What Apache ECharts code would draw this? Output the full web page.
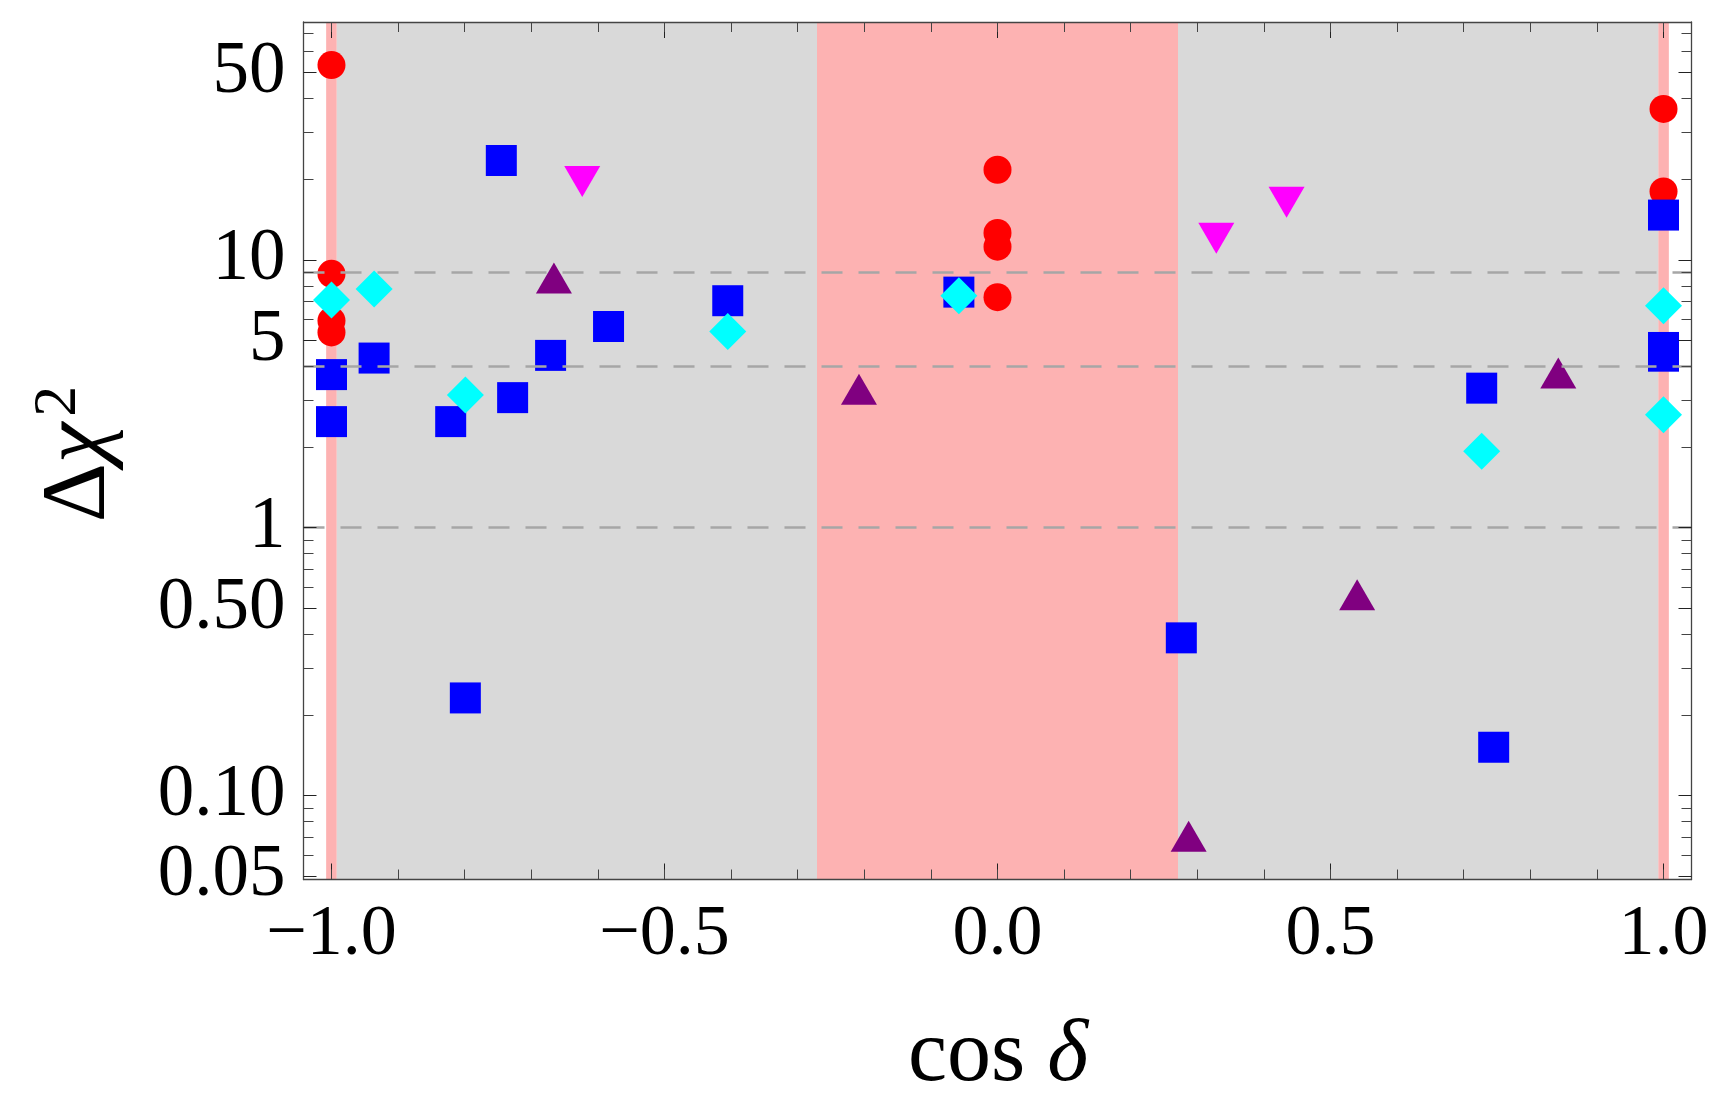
<!DOCTYPE html>
<html>
<head>
<meta charset="utf-8">
<script src="https://cdn.jsdelivr.net/npm/echarts@6/dist/echarts.min.js"></script>
<style>
    html, body { margin: 0; padding: 0; background: #fff; }
    #chart { width: 1716px; height: 1093px; }
</style>
</head>
<body>
<div id="chart"></div>
<script>
// ---- data (cos delta, delta chi^2) ----
const redCircles = [
    [-1, 53.4], [-1, 8.87], [-1, 5.93], [-1, 5.36],
    [0, 21.7], [0, 12.6], [0, 11.2], [0, 7.26],
    [1, 36.6], [1, 18.0]
];
const blueSquares = [
    [-1, 3.73], [-1, 2.49], [-0.936, 4.30], [-0.821, 2.49], [-0.728, 3.06],
    [-0.745, 23.5], [-0.671, 4.40], [-0.584, 5.64], [-0.405, 7.04], [-0.058, 7.58],
    [-0.799, 0.2315], [0.276, 0.388], [0.727, 3.32], [0.745, 0.1515],
    [1, 14.7], [1, 4.71], [1, 4.37]
];
const cyanDiamonds = [
    [-1, 7.09], [-0.936, 7.78], [-0.799, 3.13], [-0.405, 5.40],
    [-0.058, 7.34], [0.727, 1.93], [1, 6.74], [1, 2.64]
];
const magentaDown = [[-0.6235, 19.6], [0.3285, 12.05], [0.434, 16.4]];
const purpleUp = [[-0.666, 8.55], [-0.208, 3.29], [0.287, 0.0705], [0.540, 0.562], [0.842, 3.78]];

// shaded bands along cos delta
const pinkBands = [[-1.008, -0.992], [-0.271, 0.271], [0.992, 1.008]];
const grayBands = [[-0.992, -0.271], [0.271, 0.992]];
// dashed reference levels
const refLevels = [1, 4, 9];

// axes
const xMin = -1.042, xMax = 1.042;
const yMin = 0.0486, yMax = 77.3;
const xMajorTicks = [-1, -0.5, 0, 0.5, 1];
const xMinorTicks = [-1, -0.9, -0.8, -0.7, -0.6, -0.5, -0.4, -0.3, -0.2, -0.1, 0,
    0.1, 0.2, 0.3, 0.4, 0.5, 0.6, 0.7, 0.8, 0.9, 1];
const yMajorTicks = [0.05, 0.1, 0.5, 1, 5, 10, 50];
const yMajorLabels = ['0.05', '0.10', '0.50', '1', '5', '10', '50'];
const yMinorTicks = [0.06, 0.07, 0.08, 0.09, 0.2, 0.3, 0.4, 0.6, 0.7, 0.8, 0.9,
    2, 3, 4, 6, 7, 8, 9, 20, 30, 40, 60, 70];

const FONT = '"Liberation Serif", "Times New Roman", serif';
const frameLine = { show: true, onZero: false, lineStyle: { color: '#444', width: 1.3 } };
const noLine = { show: false, onZero: false };

const yLabel = (v) => {
    const i = yMajorTicks.findIndex(t => Math.abs(Math.log10(t) - v) < 1e-6);
    return i >= 0 ? yMajorLabels[i] : '';
};
const xLabel = (v) => (v < 0 ? '\u2212' + Math.abs(v).toFixed(1) : v.toFixed(1));

function xAx(position, major, withLine, withLabel) {
    return {
        type: 'value', min: xMin, max: xMax, position: position, z: 10,
        axisLine: withLine ? frameLine : noLine,
        splitLine: { show: false },
        axisTick: {
            show: true, inside: true, length: major ? 16 : 10,
            customValues: major ? xMajorTicks : xMinorTicks,
            lineStyle: { color: major ? '#222' : '#444', width: 1 }
        },
        axisLabel: withLabel ? {
            show: true, customValues: xMajorTicks, formatter: xLabel, margin: 20,
            fontFamily: FONT, fontSize: 72, color: '#000'
        } : { show: false }
    };
}

function yAx(position, major, withLine, withLabel) {
    const ticks = (major ? yMajorTicks : yMinorTicks).map(t => Math.log10(t));
    return {
        type: 'value', min: Math.log10(yMin), max: Math.log10(yMax), position: position, z: 10,
        axisLine: withLine ? frameLine : noLine,
        splitLine: { show: false },
        axisTick: {
            show: true, inside: true, length: major ? 13 : 10,
            customValues: ticks,
            lineStyle: { color: major ? '#222' : '#444', width: 1 }
        },
        axisLabel: withLabel ? {
            show: true, customValues: ticks, formatter: yLabel, margin: 18,
            fontFamily: FONT, fontSize: 73, color: '#000'
        } : { show: false }
    };
}

function scatter(name, data, symbol, size, color, rotate) {
    return {
        name: name, type: 'scatter', data: data, z: 3,
        symbol: symbol, symbolSize: size, symbolRotate: rotate || 0,
        itemStyle: { color: color, opacity: 1 },
        emphasis: { disabled: true }, silent: true
    };
}

const chart = echarts.init(document.getElementById('chart'), null, { renderer: 'canvas' });

chart.setOption({
    animation: false,
    backgroundColor: '#fff',
    grid: { left: 303.5, right: 24.5, top: 22, bottom: 213.5, containLabel: false, outerBoundsMode: 'none' },
    xAxis: [
        xAx('bottom', true, true, true),
        xAx('bottom', false, false, false),
        xAx('top', true, true, false),
        xAx('top', false, false, false)
    ],
    yAxis: [
        {
            type: 'log', min: yMin, max: yMax, position: 'left',
            axisLine: noLine, axisTick: { show: false },
            axisLabel: { show: false }, splitLine: { show: false }
        },
        yAx('left', true, true, true),
        yAx('left', false, false, false),
        yAx('right', true, true, false),
        yAx('right', false, false, false)
    ],
    series: [
        {
            name: 'bands', type: 'scatter', data: [], z: 1, silent: true,
            markArea: {
                silent: true,
                label: { show: false },
                data: pinkBands.map(b => [
                    { xAxis: b[0], itemStyle: { color: '#FDB2B2', opacity: 1, borderWidth: 0 } },
                    { xAxis: b[1] }
                ]).concat(grayBands.map(b => [
                    { xAxis: b[0], itemStyle: { color: '#D9D9D9', opacity: 1, borderWidth: 0 } },
                    { xAxis: b[1] }
                ]))
            }
        },
        scatter('red', redCircles, 'circle', 28, '#FF0000'),
        scatter('blue', blueSquares, 'rect', 31, '#0000FF'),
        scatter('purple', purpleUp, 'triangle', [36, 31], '#800080'),
        scatter('magenta', magentaDown, 'triangle', [36, 31], '#FF00FF', 180),
        scatter('cyan', cyanDiamonds, 'diamond', [37, 37], '#00FFFF'),
        {
            name: 'levels', type: 'scatter', data: [], z: 6, silent: true,
            markLine: {
                silent: true,
                symbol: ['none', 'none'],
                label: { show: false },
                lineStyle: { color: '#A6A6A6', width: 2.5, type: [21, 16] },
                data: refLevels.map(v => ({ yAxis: v }))
            }
        }
    ],
    graphic: [
        {
            type: 'text', x: 80, y: 454, rotation: Math.PI / 2, silent: true,
            style: {
                text: '{d|\u0394}{c|\u03c7}{s|2}',
                align: 'center', verticalAlign: 'middle',
                rich: {
                    d: { fontFamily: FONT, fontSize: 92, lineHeight: 104, fill: '#000' },
                    c: { fontFamily: FONT, fontSize: 92, fontStyle: 'italic', lineHeight: 104, fill: '#000' },
                    s: { fontFamily: FONT, fontSize: 62, lineHeight: 58, verticalAlign: 'top',
                         padding: [0, 0, 0, 6], fill: '#000' }
                }
            }
        },
        {
            type: 'text', x: 998, y: 1057, silent: true,
            style: {
                text: '{n|cos }{i|\u03b4}',
                align: 'center', verticalAlign: 'middle',
                rich: {
                    n: { fontFamily: FONT, fontSize: 88, fill: '#000' },
                    i: { fontFamily: FONT, fontSize: 88, fontStyle: 'italic', fill: '#000' }
                }
            }
        }
    ]
});
</script>
</body>
</html>
